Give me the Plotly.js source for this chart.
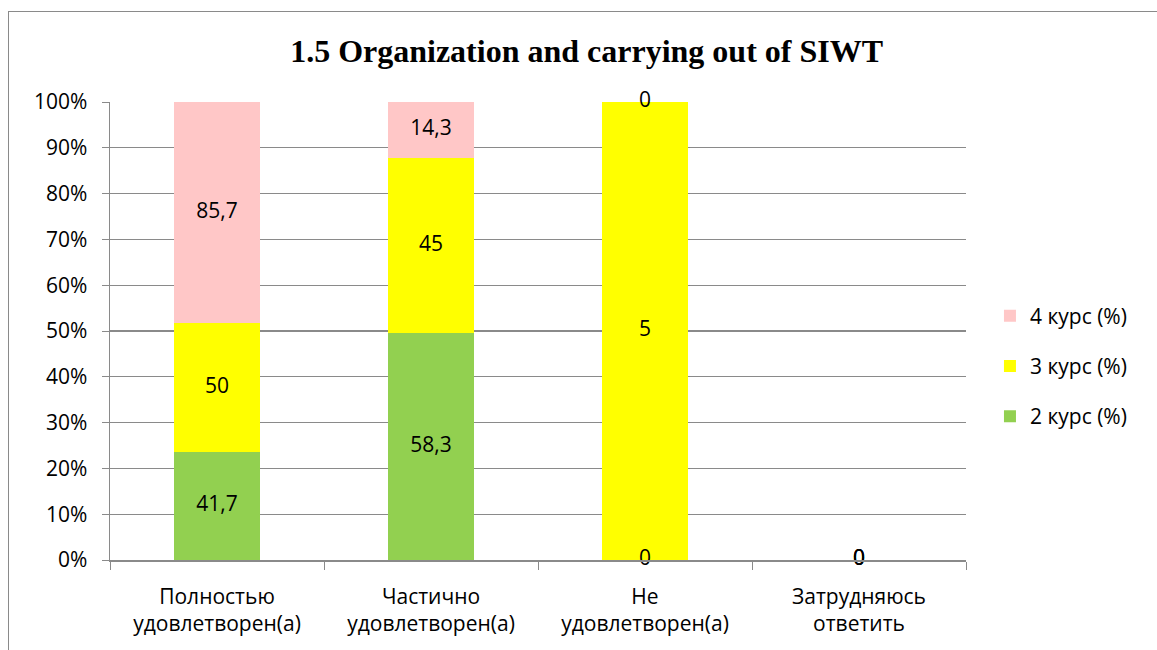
<!DOCTYPE html>
<html><head><meta charset="utf-8">
<script src="https://cdn.plot.ly/plotly-3.0.1.min.js"></script>
<style>
html,body{margin:0;padding:0;background:#fff;}
#wrap{position:relative;width:1157px;height:650px;overflow:hidden;}
#chart{width:1157px;height:650px;}
#frame{position:absolute;left:8px;top:11px;width:1160px;height:650px;border-left:1.5px solid #8a8a8a;border-top:1.5px solid #8a8a8a;pointer-events:none;}
</style></head>
<body>
<div id="wrap"><div id="chart"></div><div id="frame"></div></div>
<script>
const categories = ['Полностью<br>удовлетворен(а)', 'Частично<br>удовлетворен(а)', 'Не<br>удовлетворен(а)', 'Затрудняюсь<br>ответить'];
const course2 = [41.7, 58.3, 0, 0];
const course3 = [50, 45, 5, 0];
const course4 = [85.7, 14.3, 0, 0];
const seriesNames = ['2 курс (%)', '3 курс (%)', '4 курс (%)'];
const colors = ['#92D050', '#FFFF00', '#FFC7C7'];
const yTickVals = [0,10,20,30,40,50,60,70,80,90,100];

const fontFam = 'Open Sans, sans-serif';
const fs = 21;
const fmt = v => String(v).replace('.', ',');
const series = [course2, course3, course4];
const totals = categories.map((c, j) => series.reduce((s, a) => s + a[j], 0));

const traces = series.map((vals, i) => ({
  type: 'bar',
  x: categories,
  y: vals,
  name: seriesNames[i],
  legendgroup: 'g' + i,
  legendrank: 3 - i,
  marker: {color: colors[i], line: {width: 0}},
  hoverinfo: 'skip'
}));

// data labels: centred in each stacked segment (percent scale)
const lx = [], ly = [], lt = [];
categories.forEach((c, j) => {
  let base = 0;
  series.forEach(vals => {
    const p = totals[j] > 0 ? vals[j] / totals[j] * 100 : 0;
    lx.push(c); ly.push(base + p / 2); lt.push(fmt(vals[j]));
    base += p;
  });
});
traces.push({
  type: 'scatter', mode: 'text', x: lx, y: ly, text: lt,
  textposition: 'middle center', cliponaxis: false, showlegend: false,
  textfont: {family: fontFam, size: fs, color: '#000'}, hoverinfo: 'skip'
});

const layout = {
  width: 1157, height: 650,
  margin: {l: 110, r: 191, t: 102, b: 90},
  paper_bgcolor: '#fff', plot_bgcolor: '#fff',
  barmode: 'stack', barnorm: 'percent', bargap: 0.6,
  title: {text: '<b>1.5 Organization and carrying out of SIWT</b>',
          font: {family: 'Liberation Serif, Times New Roman, serif', size: 32, color: '#000'},
          x: 0.507, xanchor: 'center', y: 0.922, yanchor: 'middle'},
  font: {family: fontFam, size: fs, color: '#000'},
  xaxis: {
    type: 'category', tickson: 'boundaries', ticks: 'outside', ticklen: 8, tickcolor: '#8a8a8a',
    showline: true, linecolor: '#8a8a8a', linewidth: 1.5, showgrid: false,
    ticklabelstandoff: 17,
    tickfont: {family: fontFam, size: fs, color: '#000'}, zeroline: false
  },
  yaxis: {
    range: [0, 100], tickvals: yTickVals, ticktext: yTickVals.map(v => v + '%'),
    ticks: 'outside', ticklen: 7, tickcolor: '#8a8a8a',
    showline: true, linecolor: '#8a8a8a', linewidth: 1.5,
    showgrid: true, gridcolor: '#8a8a8a', gridwidth: 1.3, zeroline: false,
    ticklabelstandoff: 10,
    tickfont: {family: fontFam, size: fs, color: '#000'}
  },
  legend: {x: 1.028, xanchor: 'left', y: 0.4236, yanchor: 'middle',
           traceorder: 'grouped', tracegroupgap: 20,
           font: {family: fontFam, size: fs, color: '#000'}, itemwidth: 30},
  showlegend: true
};
Plotly.newPlot('chart', traces, layout, {displayModeBar: false, staticPlot: true});
</script>
</body></html>
